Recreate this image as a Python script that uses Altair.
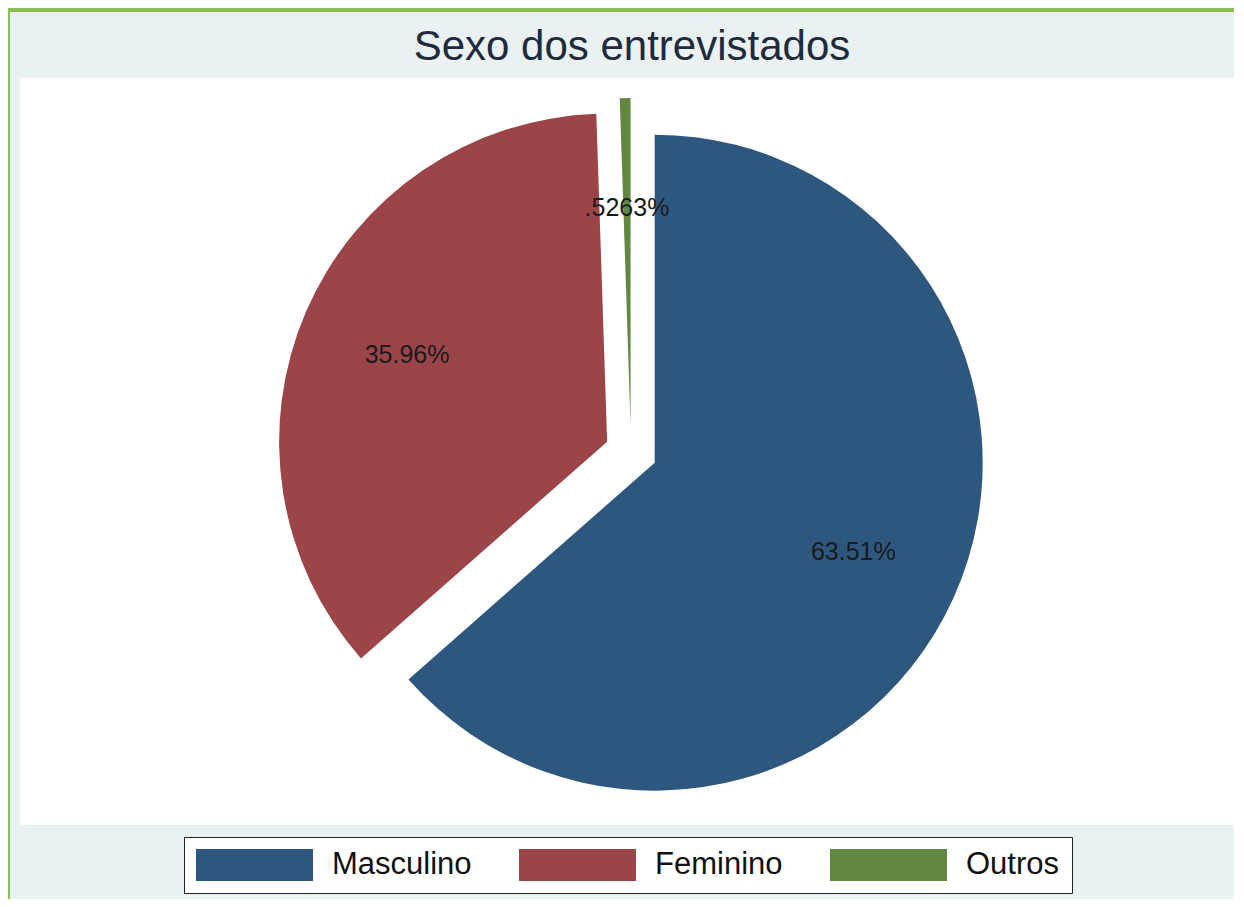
import altair as alt
import pandas as pd

categories = ["Masculino", "Feminino", "Outros"]
shares = [63.51, 35.96, 0.5263]
labels = ["63.51%", "35.96%", ".5263%"]
order = [0, 1, 2]
colors = ["#2e5780", "#9b4549", "#628741"]
title_text = "Sexo dos entrevistados"

df = pd.DataFrame({"cat": categories, "value": shares, "label": labels, "order": order})

W, H = 1214, 747
CX, CY = 611, 374
R = 328
EXPLODE = 26
LABEL_R = 218

base = (
    alt.Chart(df)
    .transform_window(cum="sum(value)", sort=[alt.SortField("order")], frame=[None, 0])
    .transform_joinaggregate(total="sum(value)")
    .transform_calculate(
        t1="2*PI*datum.cum/datum.total",
        t0="2*PI*(datum.cum-datum.value)/datum.total",
    )
    .transform_calculate(mid="(datum.t0+datum.t1)/2")
    .transform_calculate(
        cx=f"{CX} + {EXPLODE}*sin(datum.mid)",
        cy=f"{CY} - {EXPLODE}*cos(datum.mid)",
    )
)

color = alt.Color(
    "cat:N",
    scale=alt.Scale(domain=categories, range=colors),
    sort=categories,
    legend=alt.Legend(
        orient="none",
        legendX=164,
        legendY=759,
        direction="horizontal",
        columns=3,
        title=None,
        symbolType="M-1,-1H6.3125V1H-1Z",
        symbolSize=1024,
        symbolStrokeWidth=0,
        symbolOpacity=1,
        labelFont="Liberation Sans",
        labelFontSize=31,
        labelColor="#111111",
        labelOffset=104,
        columnPadding=47,
        padding=12,
        strokeColor="#222222",
        fillColor="white",
    ),
)

arcs = base.mark_arc(radius=R).encode(
    x=alt.X("cx:Q", scale=None, axis=None),
    y=alt.Y("cy:Q", scale=None, axis=None),
    theta=alt.Theta("t0:Q", scale=None),
    theta2="t1:Q",
    color=color,
)

text = base.mark_text(
    radius=LABEL_R, fontSize=25, font="Liberation Sans", color="#1a1a1a"
).encode(
    x=alt.X("cx:Q", scale=None, axis=None),
    y=alt.Y("cy:Q", scale=None, axis=None),
    theta=alt.Theta("mid:Q", scale=None),
    text="label:N",
)

deco = alt.Chart(pd.DataFrame({"k": [0]}))
green_top = deco.mark_rect(color="#86c052").encode(
    x=alt.value(-20), x2=alt.value(W + 20), y=alt.value(-78), y2=alt.value(-66)
)
green_left = deco.mark_rect(color="#86c052").encode(
    x=alt.value(-20), x2=alt.value(-10), y=alt.value(-78), y2=alt.value(H + 80)
)
title = deco.mark_text(
    text=title_text,
    fontSize=42,
    font="Liberation Sans",
    color="#1e2b3c",
    baseline="alphabetic",
    align="center",
).encode(x=alt.value(612), y=alt.value(-18))

chart = (
    alt.layer(green_top, green_left, title, arcs, text)
    .properties(
        width=W,
        height=H,
        background="#eaf1f2",
        padding={"left": 12, "top": 70, "right": 0, "bottom": 74},
        autosize=alt.AutoSizeParams(type="none"),
    )
    .configure_view(fill="white", stroke=None)
)

chart.save("out.html", embed_options={"renderer": "svg", "actions": False})
